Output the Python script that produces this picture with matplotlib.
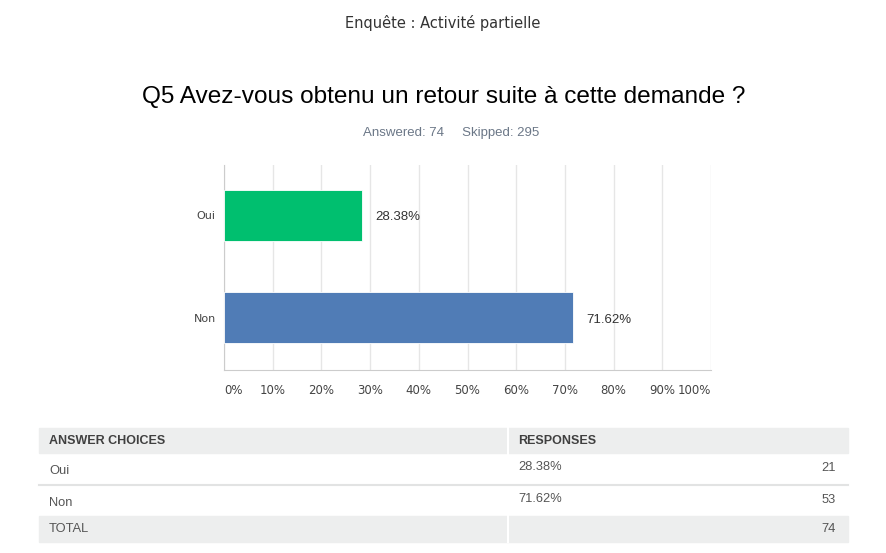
import matplotlib.pyplot as plt
from matplotlib.patches import Rectangle

survey_name = "Enquête : Activité partielle"
question = "Q5 Avez-vous obtenu un retour suite à cette demande ?"
answered = 74
skipped = 295

choices = ["Oui", "Non"]
percents = [28.38, 71.62]
counts = [21, 53]
bar_colors = ["#00bf6f", "#507cb6"]
tick_values = [0, 10, 20, 30, 40, 50, 60, 70, 80, 90, 100]

W, H = 886, 553
fig = plt.figure(figsize=(W / 100, H / 100), dpi=100)
fig.patch.set_facecolor("white")

# overlay in pixel coords for titles and the table
bg = fig.add_axes([0, 0, 1, 1])
bg.set_xlim(0, W)
bg.set_ylim(H, 0)
bg.axis("off")

bg.text(443, 23, survey_name, ha="center", va="center", fontsize=10.5,
        family="DejaVu Sans", color="#333333")
bg.text(444, 97, question, ha="center", va="center", fontsize=17.6,
        family="Liberation Sans", color="#000000")
bg.text(451, 133, f"Answered: {answered}     Skipped: {skipped}", ha="center",
        va="center", fontsize=9.5, family="Liberation Sans", color="#6b7787")

# bar chart
ax = fig.add_axes([224 / W, (H - 370) / H, 487 / W, 205 / H])
ypos = list(range(len(choices)))
ax.barh(ypos, percents, height=0.5, color=bar_colors, edgecolor="white",
        linewidth=0.6, zorder=3)
for y, p in zip(ypos, percents):
    ax.text(p + 2.7, y + 0.02, f"{p:.2f}%", va="center", ha="left", fontsize=9.5,
            family="Liberation Sans", color="#333333")
ax.set_xlim(0, 100)
ax.set_ylim(1.51, -0.49)
ax.set_yticks(ypos)
ax.set_yticklabels(choices, fontsize=8, family="DejaVu Sans", color="#444444")
ax.set_xticks(tick_values)
labels = ax.set_xticklabels([f"{t}%" for t in tick_values], fontsize=8.5,
                            family="DejaVu Sans", color="#444444")
labels[0].set_ha("left")
labels[-1].set_ha("right")
ax.tick_params(length=0)
ax.tick_params(axis="x", pad=10)
ax.tick_params(axis="y", pad=6)
ax.grid(axis="x", color="#e6e6e6", linewidth=1, zorder=0)
for side in ["top", "right"]:
    ax.spines[side].set_visible(False)
for side in ["left", "bottom"]:
    ax.spines[side].set_color("#cccccc")

# summary table
x0, x1, xs = 39, 848, 508
gray = "#edeeee"
bg.add_patch(Rectangle((x0, 428), x1 - x0, 25, color=gray))
bg.add_patch(Rectangle((x0, 516), x1 - x0, 26, color=gray))
bg.plot([xs, xs], [428, 542], color="white", lw=1.5)
bg.plot([x0, x1], [485, 485], color="#e2e3e3", lw=1.5)
tfont = dict(family="Liberation Sans", fontsize=9.3, color="#555555")
bg.text(49, 441, "ANSWER CHOICES", va="center", fontweight="bold",
        family="Liberation Sans", fontsize=9, color="#404040")
bg.text(518, 441, "RESPONSES", va="center", fontweight="bold",
        family="Liberation Sans", fontsize=9, color="#404040")
row_y = [471, 503]
for y, c, p, n in zip(row_y, choices, percents, counts):
    bg.text(49, y, c, va="center", **tfont)
    bg.text(518, y - 4, f"{p:.2f}%", va="center", **tfont)
    bg.text(836, y - 3, str(n), va="center", ha="right", **tfont)
bg.text(49, 529, "TOTAL", va="center", **tfont)
bg.text(836, 529, str(sum(counts)), va="center", ha="right", **tfont)

fig.savefig("out.png", dpi=100)
